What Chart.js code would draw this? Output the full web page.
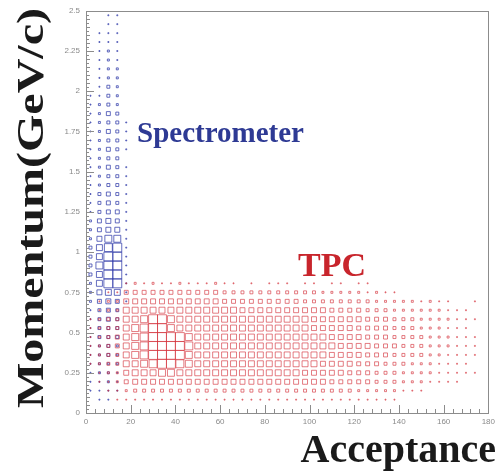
<!DOCTYPE html>
<html>
<head>
<meta charset="utf-8">
<script src="https://cdn.jsdelivr.net/npm/chart.js@4"></script>
<style>
  html, body { margin: 0; padding: 0; background: #fff; }
</style>
</head>
<body>
<canvas id="chart" width="499" height="473"></canvas>
<script>
const accTicks = [0, 20, 40, 60, 80, 100, 120, 140, 160, 180];
const momTicks = [0, 0.25, 0.5, 0.75, 1, 1.25, 1.5, 1.75, 2, 2.25, 2.5];

// bin centres of the 2D histogram (4 x 2.5/45)
const accCentres = [2, 6, 10, 14, 18, 22, 26, 30, 34, 38, 42, 46, 50, 54, 58, 62, 66, 70, 74, 78, 82, 86,
  90, 94, 98, 102, 106, 110, 114, 118, 122, 126, 130, 134, 138, 142, 146, 150, 154, 158, 162, 166, 170, 174];
const momCentres = [0.028, 0.083, 0.139, 0.194, 0.250, 0.306, 0.361, 0.417, 0.472, 0.528, 0.583, 0.639,
  0.694, 0.750, 0.806, 0.861, 0.917, 0.972, 1.028, 1.083, 1.139, 1.194, 1.250, 1.306, 1.361, 1.417, 1.472,
  1.528, 1.583, 1.639, 1.694, 1.750, 1.806, 1.861, 1.917, 1.972, 2.028, 2.083, 2.139, 2.194, 2.250, 2.306,
  2.361, 2.417, 2.472];

// TPC contents (0-9), one row per momentum bin from the bottom, one digit per acceptance bin
const tpcRows = [
  '00000000000000000000000000000000000000000000',
  '00011111111111111111111111111111111000000000',
  '00112333333333333333333333333322222111000000',
  '01124555555555555555555555544444333222111100',
  '01225666776666666666666655555444333222211111',
  '12336678998766666666666666555544433322211110',
  '12336789999766666666666666655554443333221111',
  '12346789999866666666666666665555444333222111',
  '12346789999766666666666666655554443333222111',
  '12336789976666666666666665555544443332221110',
  '12336679976666666666666665555554443332222111',
  '01226666666666666555555555544443332222221110',
  '01225555555555544444444433333333222221211001',
  '00114444444444433333333333222221211000000000',
  '00001212112111211010111011011011000000000000'
];

// Spectrometer contents (0-9), first five acceptance bins, rows from the bottom
const specRows = [
  '00000', '01100', '11110', '11210', '12210', '12220', '12320', '12320', '13330', '13330',
  '13430', '13430', '24541', '25661', '26991', '36991', '37991', '36991', '36891', '25771',
  '24551', '24541', '13441', '13431', '13431', '12331', '12331', '12431', '12330', '12431',
  '12331', '12431', '12331', '12430', '12320', '11320', '01320', '01220', '01220', '01210',
  '01210', '01110', '01110', '00110', '00110'
];

function toPoints(rows) {
  const pts = [];
  rows.forEach((row, j) => {
    row.split('').forEach((d, k) => {
      const v = Number(d);
      if (v > 0) pts.push({ x: accCentres[k], y: momCentres[j], v: v });
    });
  });
  return pts;
}

// box side proportional to content, full bin at 9
function boxRadius(c) {
  if (!c.raw) return 0;
  const xs = c.chart.scales.x;
  const bin = Math.abs(xs.getPixelForValue(4) - xs.getPixelForValue(0));
  return (c.raw.v / 9) * bin / Math.SQRT2;
}

const frame = {
  id: 'frame',
  afterDatasetsDraw(chart) {
    const { ctx, chartArea: a, scales: { x, y } } = chart;
    ctx.save();
    ctx.strokeStyle = '#8c8c8c';
    ctx.lineWidth = 1;
    ctx.strokeRect(Math.round(a.left) + 0.5, Math.round(a.top) + 0.5,
      Math.round(a.right - a.left), Math.round(a.bottom - a.top));
    ctx.beginPath();
    for (let v = 0; v <= 180; v += 4) {
      const px = Math.round(x.getPixelForValue(v)) + 0.5;
      const len = v % 20 === 0 ? 8 : 4;
      ctx.moveTo(px, a.bottom);
      ctx.lineTo(px, a.bottom - len);
    }
    for (let i = 0; i <= 100; i++) {
      const py = Math.round(y.getPixelForValue(i * 0.025)) + 0.5;
      const len = i % 10 === 0 ? 8 : (i % 2 === 0 ? 4 : 3);
      ctx.moveTo(a.left, py);
      ctx.lineTo(a.left + len, py);
    }
    ctx.stroke();
    ctx.restore();
  },
  afterDraw(chart) {
    const ctx = chart.ctx;
    ctx.save();
    // y title, stretched along its length like the original
    ctx.fillStyle = '#1a1a1a';
    ctx.font = 'bold 38px "Liberation Serif"';
    const yTitle = 'Momentum(GeV/c)';
    const w = ctx.measureText(yTitle).width;
    ctx.translate(43, 208);
    ctx.rotate(-Math.PI / 2);
    ctx.scale(400 / w, 1);
    ctx.textAlign = 'center';
    ctx.fillText(yTitle, 0, 0);
    ctx.restore();

    ctx.save();
    ctx.fillStyle = '#1a1a1a';
    ctx.font = 'bold 40px "Liberation Serif"';
    ctx.textAlign = 'right';
    ctx.fillText('Acceptance', 496, 462);

    ctx.textAlign = 'left';
    ctx.font = 'bold 29px "Liberation Serif"';
    ctx.fillStyle = '#2e3a94';
    ctx.fillText('Spectrometer', 137, 142);
    ctx.font = 'bold 34px "Liberation Serif"';
    ctx.fillStyle = '#c8252c';
    ctx.fillText('TPC', 298, 276);
    ctx.restore();
  }
};

const tickFont = { family: 'Liberation Sans', size: 8 };
const fmt = v => String(v);

new Chart(document.getElementById('chart'), {
  type: 'scatter',
  data: {
    datasets: [
      {
        label: 'TPC',
        data: toPoints(tpcRows),
        pointStyle: 'rect',
        pointRadius: boxRadius,
        pointHoverRadius: boxRadius,
        backgroundColor: 'rgba(0,0,0,0)',
        borderColor: 'rgba(212,45,55,0.62)',
        borderWidth: 1
      },
      {
        label: 'Spectrometer',
        data: toPoints(specRows),
        pointStyle: 'rect',
        pointRadius: boxRadius,
        pointHoverRadius: boxRadius,
        backgroundColor: 'rgba(0,0,0,0)',
        borderColor: 'rgba(50,60,170,0.75)',
        borderWidth: 1
      }
    ]
  },
  options: {
    responsive: false,
    animation: false,
    events: [],
    layout: { padding: { top: 8, right: 8, left: 0, bottom: 0 } },
    plugins: { legend: { display: false }, tooltip: { enabled: false } },
    scales: {
      x: {
        type: 'linear',
        min: 0,
        max: 180,
        afterBuildTicks: s => { s.ticks = accTicks.map(v => ({ value: v })); },
        afterFit: s => { s.height = 60; },
        grid: { display: false, drawTicks: false },
        border: { display: false },
        ticks: { font: tickFont, color: '#8a8a8a', padding: 4, maxRotation: 0, autoSkip: false, callback: fmt }
      },
      y: {
        type: 'linear',
        min: 0,
        max: 2.5,
        afterBuildTicks: s => { s.ticks = momTicks.map(v => ({ value: v })); },
        afterFit: s => { s.width = 86; },
        grid: { display: false, drawTicks: false },
        border: { display: false },
        ticks: { font: tickFont, color: '#8a8a8a', padding: 6, autoSkip: false, callback: fmt }
      }
    }
  },
  plugins: [frame]
});
</script>
</body>
</html>
